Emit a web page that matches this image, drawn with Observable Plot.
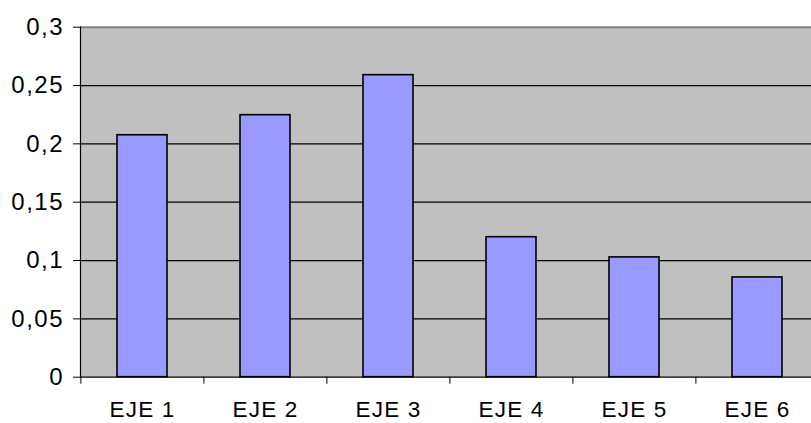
<!DOCTYPE html>
<html><head><meta charset="utf-8">
<script src="https://cdn.jsdelivr.net/npm/d3@7"></script>
<script src="https://cdn.jsdelivr.net/npm/@observablehq/plot@0.6"></script>
<style>
html,body{margin:0;padding:0;background:#fff;overflow:hidden}
#chart{width:811px;height:423px;overflow:hidden}
</style></head><body><div id="chart"></div>
<script>
const categories = ["EJE 1", "EJE 2", "EJE 3", "EJE 4", "EJE 5", "EJE 6"];
const values = [0.2074, 0.2246, 0.2589, 0.12, 0.1027, 0.0855];
const yTicks = [0, 0.05, 0.1, 0.15, 0.2, 0.25, 0.3];
const yTickLabels = ["0", "0,05", "0,1", "0,15", "0,2", "0,25", "0,3"];

const data = categories.map((c, i) => ({cat: c, value: values[i]}));
const xRange = [80, 819.2];
const step = (xRange[1] - xRange[0]) / categories.length;
const font = "'Liberation Sans', Arial, sans-serif";

const plot = Plot.plot({
  width: 811, height: 423,
  marginLeft: 80, marginRight: 0, marginTop: 26.7, marginBottom: 46.3,
  style: {fontFamily: font, fontSize: "22.5px", color: "#000", background: "#fff", letterSpacing: "1.2px"},
  x: {domain: categories, range: xRange, paddingInner: 0.594, paddingOuter: 0.298, align: 0.5},
  y: {domain: [0, 0.3]},
  marks: [
    Plot.frame({fill: "#c0c0c0", stroke: null}),
    Plot.gridY(yTicks.filter(t => t > 0 && t < 0.3), {stroke: "#000", strokeOpacity: 1, strokeWidth: 1.2}),
    Plot.ruleY([0.3], {stroke: "#808080", strokeWidth: 2}),
    Plot.barY(data, {x: "cat", y: "value", fill: "#9999ff", stroke: "#000", strokeWidth: 1.6}),
    Plot.ruleY([0], {stroke: "#000", strokeWidth: 1.2}),
    Plot.frame({anchor: "left", stroke: "#000", strokeWidth: 1.2}),
    Plot.axisY({ticks: yTicks, tickFormat: d => yTickLabels[yTicks.indexOf(d)], tickSize: 7, tickPadding: 9.5, label: null, stroke: "#000", strokeOpacity: 1, fontSize: 24, fontFamily: font}),
    Plot.axisX({tickSize: 7, tickFormat: () => "", dx: -step / 2, label: null, stroke: "#000", strokeOpacity: 1}),
    Plot.axisX({tickSize: 0, tickPadding: 24, label: null, fontSize: 22.5, fontFamily: font})
  ]
});
d3.select(plot).selectAll('g[aria-label="y-axis tick label"]').style("letter-spacing", "1.5px");
document.getElementById("chart").appendChild(plot);
</script>
</body></html>
